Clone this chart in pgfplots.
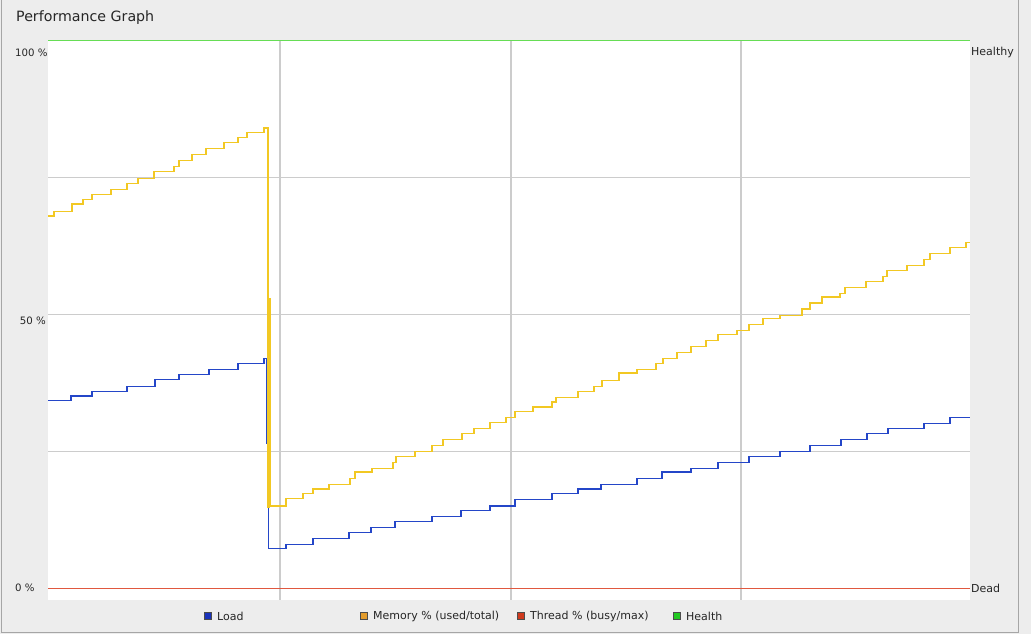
\documentclass[border=0pt]{standalone}
\usepackage{pgfplots}
\pgfplotsset{compat=1.18}
\usepackage{fontspec}
\setmainfont{DejaVu Sans}
\definecolor{panelbg}{HTML}{EDEDED}
\definecolor{gridgray}{HTML}{CCCCCC}
\definecolor{loadblue}{HTML}{2446C8}
\definecolor{memyellow}{HTML}{F2C823}
\definecolor{deadred}{HTML}{E0583F}
\definecolor{healthgreen}{HTML}{66DD55}
\definecolor{legblue}{HTML}{1A33BB}
\definecolor{legorange}{HTML}{E39C2C}
\definecolor{legred}{HTML}{CF3A1E}
\definecolor{leggreen}{HTML}{22C922}
\begin{document}
\begin{tikzpicture}[x=1pt,y=1pt]
\fill[panelbg] (0,0) rectangle (1031,634);
\useasboundingbox (0,0) rectangle (1031,634);
\draw[gray!70, line width=1pt] (1.5,634) -- (1.5,1.5) -- (1018.5,1.5) -- (1018.5,634);
\node[anchor=west, font=\fontsize{14.2}{16}\selectfont, text=black!85, inner sep=0pt] at (16,616) {Performance Graph};
\begin{axis}[
  at={(48pt,34pt)}, anchor=south west,
  scale only axis, width=922pt, height=559pt,
  xmin=48, xmax=970, ymin=-2.19, ymax=100,
  axis background/.style={fill=white},
  axis line style={draw=none},
  tick style={draw=none},
  xtick={280,511,741}, ytick={25,50,75},
  xticklabels={}, yticklabels={},
  grid=major,
  grid style={draw=gridgray, line width=1.1pt},
  clip=false,
]
\addplot[deadred, line width=0.8pt] coordinates {(48,0) (970,0)};
\addplot[healthgreen, line width=1pt] coordinates {(48,100) (970,100)};
\addplot[loadblue, line width=1.1pt, const plot] coordinates {
(48,34.2)(71,35.1)(92,36.0)(127,36.9)(155,38.2)(179,39.1)(209,40.0)(238,41.1)(264,42.0)(267,26.5)(268.5,7.3)(286,8.0)(313,9.0)(349,10.1)(371,11.0)(395,12.1)(432,13.0)(461,14.1)(490,15.0)(515,16.1)(552,17.2)(578,18.1)(601,19.0)(637,20.1)(662,21.2)(691,21.9)(718,23.0)(749,24.1)(780,24.9)(810,26.0)(841,27.1)(867,28.2)(888,29.1)(924,30.0)(950,31.1)(970,31.1)
};
\addplot[memyellow, line width=1.1pt, const plot] coordinates {
(48,68.0)(54,68.9)(72,70.2)(83,71.1)(92,72.0)(111,72.9)(127,74.0)(138,74.9)(154,76.1)(174,77.0)(179,78.2)(192,79.2)(206,80.3)(224,81.4)(238,82.3)(247,83.2)(264,84.1)(268,14.8)(269.5,53.0)(270,15.0)(286,16.3)(303,17.2)(313,18.1)(329,19.0)(350,20.1)(355,21.2)(372,21.9)(393,23.0)(396,24.1)(415,24.9)(432,26.0)(443,27.1)(462,28.2)(474,29.1)(490,30.2)(506,31.1)(515,32.2)(533,33.1)(552,34.0)(556,34.9)(578,36.0)(594,36.9)(602,38.0)(619,39.3)(637,40.0)(656,41.1)(663,42.0)(677,43.1)(691,44.1)(706,45.2)(718,46.3)(737,47.0)(749,48.1)(763,49.2)(780,49.9)(802,51.0)(810,52.1)(822,53.2)(840,53.9)(845,55.0)(866,56.1)(883,57.0)(887,58.0)(907,59.0)(924,60.1)(930,61.1)(950,62.2)(966,63.1)(970,63.1)
};
\end{axis}
\begin{scope}[every node/.style={font=\fontsize{10.2}{12}\selectfont, text=black!85, inner sep=0pt}]
\node[anchor=west] at (15,581) {100 \%};
\node[anchor=east] at (46,313) {50 \%};
\node[anchor=west] at (15,46) {0 \%};
\end{scope}
\begin{scope}[every node/.style={font=\fontsize{11}{13}\selectfont, text=black!85, inner sep=0pt}]
\node[anchor=west] at (971,582) {Healthy};
\node[anchor=west] at (971,46) {Dead};
\foreach \cx/\col/\txt in {208/legblue/Load, 364/legorange/{Memory \% (used/total)}, 521/legred/{Thread \% (busy/max)}, 677/leggreen/Health} {
  \filldraw[fill=\col, draw=black!70, line width=0.6pt] (\cx-3.5,14.5) rectangle (\cx+3.5,21.5);
  \node[anchor=west] at (\cx+9,18) {\txt};
}
\end{scope}
\end{tikzpicture}
\end{document}
